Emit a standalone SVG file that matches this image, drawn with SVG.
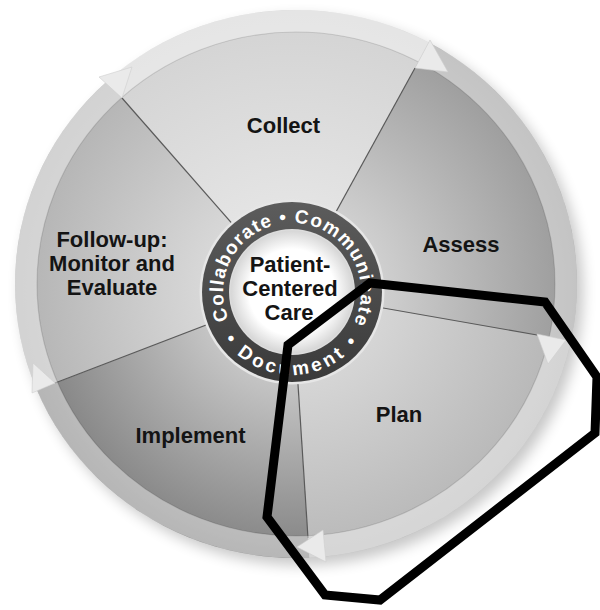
<svg xmlns="http://www.w3.org/2000/svg" width="600" height="610" viewBox="0 0 600 610">
<defs>
<style>
.lbl{font-family:"Liberation Sans",Arial,sans-serif;font-weight:bold;font-size:22px;fill:#141414;text-anchor:middle}
.ringtxt{font-family:"Liberation Sans",Arial,sans-serif;font-weight:bold;font-size:19px;fill:#ffffff}
.div{stroke:#5a5a5a;stroke-width:1.2;fill:none}
.head{fill:#eaeaea;stroke:#cfcfcf;stroke-width:0.6}
</style>
<clipPath id="disc"><ellipse cx="296" cy="284" rx="281" ry="274"/></clipPath>
<filter id="blur" x="-20%" y="-20%" width="140%" height="140%"><feGaussianBlur stdDeviation="7"/></filter>
<radialGradient id="gCollect" gradientUnits="userSpaceOnUse" cx="292" cy="292" r="290">
<stop offset="0.3" stop-color="#e4e4e4"/><stop offset="1" stop-color="#d2d2d2"/></radialGradient>
<radialGradient id="gAssess" gradientUnits="userSpaceOnUse" cx="292" cy="292" r="290">
<stop offset="0.3" stop-color="#d0d0d0"/><stop offset="0.65" stop-color="#b4b4b4"/><stop offset="1" stop-color="#989898"/></radialGradient>
<radialGradient id="gPlan" gradientUnits="userSpaceOnUse" cx="292" cy="292" r="290">
<stop offset="0.3" stop-color="#d6d6d6"/><stop offset="1" stop-color="#b4b4b4"/></radialGradient>
<radialGradient id="gImpl" gradientUnits="userSpaceOnUse" cx="292" cy="292" r="290">
<stop offset="0.3" stop-color="#c6c6c6"/><stop offset="0.65" stop-color="#a0a0a0"/><stop offset="1" stop-color="#7a7a7a"/></radialGradient>
<radialGradient id="gFollow" gradientUnits="userSpaceOnUse" cx="292" cy="292" r="290">
<stop offset="0.3" stop-color="#d8d8d8"/><stop offset="1" stop-color="#b0b0b0"/></radialGradient>
<linearGradient id="gRing" x1="0" y1="0" x2="0" y2="1">
<stop offset="0" stop-color="#5c5c5c"/><stop offset="1" stop-color="#3a3a3a"/></linearGradient>
<radialGradient id="gInner" cx="0.5" cy="0.5" r="0.5">
<stop offset="0.7" stop-color="#ffffff"/><stop offset="1" stop-color="#d6d6d6"/></radialGradient>
<path id="topArc" d="M228.97,320.06 A69,69 0 1 1 352.92,324.39"/>
<path id="botArc" d="M221.61,335.98 A83,83 0 0 0 362.39,335.98"/>
</defs>

<rect width="600" height="610" fill="#ffffff"/>
<ellipse cx="302" cy="291" rx="281" ry="274" fill="#000" opacity="0.22" filter="url(#blur)"/>

<g clip-path="url(#disc)">
<g id="collect">
<polygon points="292,292 15.2,-23.9 494.1,-76.2" fill="url(#gCollect)"/>
<text class="lbl" x="283.5" y="133">Collect</text>
</g>
<g id="assess">
<polygon points="292,292 494.1,-76.2 705.5,365.4" fill="url(#gAssess)"/>
<text class="lbl" x="461" y="252">Assess</text>
</g>
<g id="plan">
<polygon points="292,292 705.5,365.4 319.3,711.1" fill="url(#gPlan)"/>
<text class="lbl" x="399" y="422">Plan</text>
</g>
<g id="implement">
<polygon points="292,292 319.3,711.1 -100.1,442.6" fill="url(#gImpl)"/>
<text class="lbl" x="190.5" y="443">Implement</text>
</g>
<g id="follow-up">
<polygon points="292,292 -100.1,442.6 15.2,-23.9" fill="url(#gFollow)"/>
<text class="lbl" x="112" y="247">Follow-up:</text>
<text class="lbl" x="112" y="271">Monitor and</text>
<text class="lbl" x="112" y="295">Evaluate</text>
</g>
</g>

<g id="dividers">
<line class="div" x1="292" y1="292" x2="122" y2="98"/>
<line class="div" x1="292" y1="292" x2="415" y2="68"/>
<line class="div" x1="292" y1="292" x2="537" y2="335"/>
<line class="div" x1="292" y1="292" x2="308" y2="538"/>
<line class="div" x1="292" y1="292" x2="55" y2="383"/>
</g>

<g id="connectors">
<ellipse cx="296" cy="284" rx="270" ry="263" fill="none" stroke="#ffffff" stroke-width="22" opacity="0.42"/>
<ellipse cx="296" cy="284" rx="259" ry="252" fill="none" stroke="#000" stroke-width="1.2" opacity="0.12"/>
<polygon class="head" points="122,98 99,77 132,67"/>
<polygon class="head" points="415,68 430,40 448,72"/>
<polygon class="head" points="537,334 566,340 548,364"/>
<polygon class="head" points="323,530 326,562 297,547"/>
<polygon class="head" points="55,383 32,393 33,363"/>
</g>

<g id="center">
<circle cx="292" cy="292" r="92.5" fill="#e6e6e6"/>
<circle cx="292" cy="292" r="90" fill="url(#gRing)"/>
<circle cx="292" cy="292" r="63" fill="#dcdcdc"/>
<circle cx="292" cy="292" r="61.5" fill="url(#gInner)"/>
<text class="ringtxt" letter-spacing="1.2"><textPath href="#topArc" startOffset="50%" text-anchor="middle">Collaborate • Communicate</textPath></text>
<text class="ringtxt" font-size="20" letter-spacing="3.5"><textPath href="#botArc" startOffset="50%" text-anchor="middle">• Document •</textPath></text>
<text class="lbl" x="290" y="272">Patient-</text>
<text class="lbl" x="290" y="296">Centered</text>
<text class="lbl" x="289" y="320">Care</text>
</g>

<polygon id="highlight" points="370,283 545,302 597,377 595,433 380,600 325,595 267,517 288,345" fill="none" stroke="#000" stroke-width="9" stroke-linejoin="miter"/>
</svg>
